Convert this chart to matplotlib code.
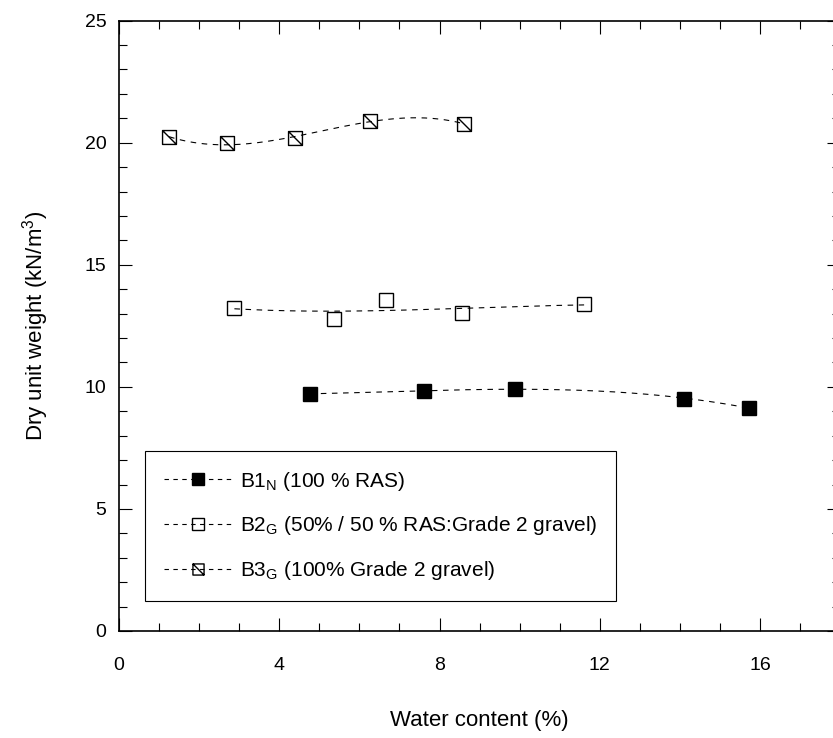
import numpy as np
import matplotlib
matplotlib.use("Agg")
import matplotlib.pyplot as plt
from matplotlib.path import Path
from matplotlib.lines import Line2D
from matplotlib.ticker import MultipleLocator

plt.rcParams['font.family'] = ['Liberation Sans', 'DejaVu Sans']
plt.rcParams['mathtext.default'] = 'regular'

# Compaction test results: water content (%) vs dry unit weight (kN/m3)
b1_w = [4.76, 7.61, 9.88, 14.11, 15.72]
b1_gd = [9.72, 9.82, 9.93, 9.52, 9.14]

b2_w = [2.88, 5.37, 6.67, 8.55, 11.61]
b2_gd = [13.24, 12.80, 13.55, 13.03, 13.38]

b3_w = [1.25, 2.70, 4.40, 6.27, 8.61]
b3_gd = [20.23, 19.97, 20.19, 20.90, 20.77]

labels = [
    r'B1$_{N}$ (100 % RAS)',
    r'B2$_{G}$ (50% / 50 % RAS:Grade 2 gravel)',
    r'B3$_{G}$ (100% Grade 2 gravel)',
]

# square with a diagonal (top-left to bottom-right)
diag_square = Path(
    [(-1, -1), (1, -1), (1, 1), (-1, 1), (-1, -1), (-1, 1), (1, -1)],
    [Path.MOVETO, Path.LINETO, Path.LINETO, Path.LINETO, Path.CLOSEPOLY,
     Path.MOVETO, Path.LINETO],
)

styles = [
    dict(marker='s', mfc='black', mec='black'),
    dict(marker='s', mfc='none', mec='black'),
    dict(marker=diag_square, mfc='none', mec='black'),
]

fig = plt.figure(figsize=(8.33, 7.38), dpi=100)
ax = fig.add_axes([0.1429, 0.145, 0.8656, 0.827])

series = [(b1_w, b1_gd), (b2_w, b2_gd), (b3_w, b3_gd)]
handles = []
for (w, gd), st, lab in zip(series, styles, labels):
    w = np.array(w)
    gd = np.array(gd)
    # third-order trend line through each data set
    coef = np.polyfit(w, gd, 3)
    xs = np.linspace(w.min(), w.max(), 200)
    ax.plot(xs, np.polyval(coef, xs), color='black', lw=0.8,
            dashes=(5, 5), zorder=2)
    ax.plot(w, gd, linestyle='none', ms=10, mew=1.0, zorder=3, **st)
    handles.append(Line2D([], [], color='black', lw=0.8, dashes=(4, 4),
                          ms=8, mew=1.0, label=lab, **st))

ax.set_xlim(0, 18)
ax.set_ylim(0, 25)
ax.xaxis.set_major_locator(MultipleLocator(4))
ax.xaxis.set_minor_locator(MultipleLocator(1))
ax.yaxis.set_major_locator(MultipleLocator(5))
ax.yaxis.set_minor_locator(MultipleLocator(1))

ax.tick_params(which='both', direction='in', top=True, right=True,
               width=0.8, labelsize=14)
ax.tick_params(which='major', length=9.5)
ax.tick_params(which='minor', length=6)
ax.tick_params(axis='x', which='major', pad=19)
ax.tick_params(axis='y', which='major', pad=9)
for sp in ax.spines.values():
    sp.set_linewidth(1.2)

ax.set_xlabel('Water content (%)', fontsize=16, labelpad=26)
ax.set_ylabel('Dry unit weight (kN/m$^3$)', fontsize=16, labelpad=24)

leg = ax.legend(handles=handles, loc='lower left',
                bbox_to_anchor=(0.036, 0.049), borderaxespad=0,
                fontsize=15, handlelength=3.3, handletextpad=0.35,
                labelspacing=1.05, borderpad=0.9, fancybox=False,
                edgecolor='black', framealpha=1)
leg.get_frame().set_linewidth(0.8)

fig.savefig('out.png', dpi=100)
